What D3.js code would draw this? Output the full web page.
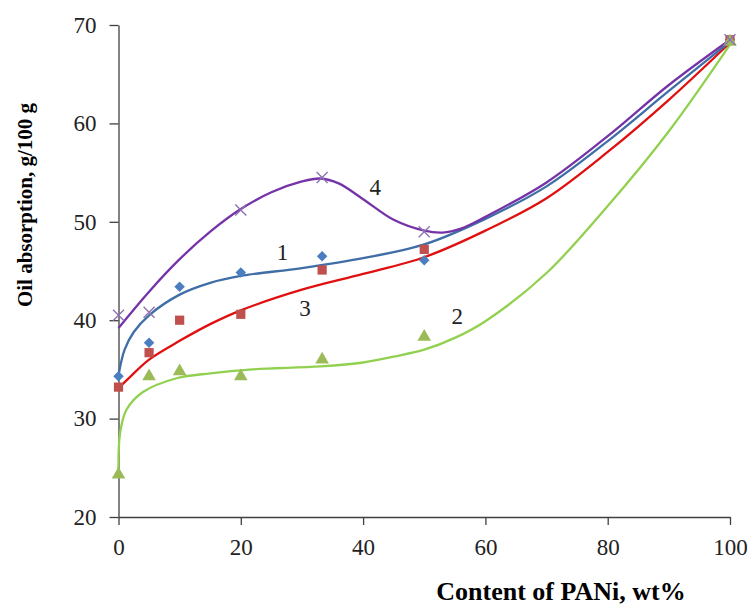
<!DOCTYPE html>
<html>
<head>
<meta charset="utf-8">
<script src="https://cdn.jsdelivr.net/npm/d3@7"></script>
<style>
  body { margin: 0; background: #fff; }
  text { font-family: "Liberation Serif", "Times New Roman", serif; }
</style>
</head>
<body>
<div id="chart"></div>
<script>
// measured points (x = content of PANi, wt%)
var xPoints = [0, 5, 10, 20, 33.3, 50, 100];
var series1 = [34.3, 37.7, 43.4, 44.85, 46.5, 46.1, 68.5];   // blue diamonds
var series2 = [24.3, 34.3, 34.8, 34.3, 36.0, 38.3, 68.3];     // green triangles
var series3 = [33.2, 36.7, 40.0, 40.6, 45.1, 47.2, 68.5];     // red squares
var xPoints4 = [0, 5, 20, 33.3, 50, 100];
var series4 = [40.5, 40.8, 51.2, 54.5, 49.0, 68.5];           // purple crosses

// fitted curves
var curve1X = [0, 1, 2.5, 5, 10, 15, 20, 30, 40, 50, 60, 70, 80, 90, 100];
var curve1Y = [34.4, 37.0, 38.8, 40.5, 42.6, 43.8, 44.5, 45.3, 46.3, 47.7, 50.3, 53.6, 58.2, 63.3, 68.3];
var curve2X = [0, 0.25, 1.3, 4, 9.5, 15, 22, 33, 40, 45, 50, 55, 60, 70, 80, 90, 100];
var curve2Y = [24.1, 28.5, 30.9, 32.7, 34.1, 34.6, 35.0, 35.3, 35.7, 36.3, 37.0, 38.2, 39.9, 44.8, 51.6, 59.2, 68.0];
var curve3X = [0, 2, 5, 10, 15, 20, 30, 40, 50, 60, 70, 80, 90, 100];
var curve3Y = [33.1, 34.3, 36.0, 37.9, 39.6, 41.0, 43.1, 44.7, 46.4, 49.1, 52.4, 57.1, 62.4, 68.2];
var curve4X = [0, 5, 10, 15, 20, 25, 30, 33, 36, 40, 45, 50, 53, 56, 60, 70, 80, 90, 100];
var curve4Y = [39.2, 42.9, 46.2, 49.0, 51.3, 53.0, 54.1, 54.4, 53.9, 52.3, 50.2, 49.1, 48.9, 49.3, 50.5, 54.0, 58.7, 63.9, 68.5];

var xTicks = [0, 20, 40, 60, 80, 100];
var yTicks = [20, 30, 40, 50, 60, 70];

// curve labels: [label, x, y]
var labels = [["1", 26.8, 46.9], ["3", 30.5, 41.2], ["4", 42, 53.5], ["2", 55.4, 40.4]];

var width = 751, height = 606;
var svg = d3.select("#chart").append("svg")
    .attr("width", width)
    .attr("height", height);

var x = d3.scaleLinear().domain([0, 100]).range([118.5, 730]);
var y = d3.scaleLinear().domain([20, 70]).range([517, 25]);

var axisColor = "#404040";

// X axis
var gx = svg.append("g")
    .attr("transform", "translate(0," + y(20) + ")")
    .call(d3.axisBottom(x).tickValues(xTicks).tickSize(8).tickPadding(14).tickSizeOuter(0));
// Y axis
var gy = svg.append("g")
    .attr("transform", "translate(" + x(0) + ",0)")
    .call(d3.axisLeft(y).tickValues(yTicks).tickSize(9).tickPadding(13).tickSizeOuter(0));

[gx, gy].forEach(function (g) {
    g.select(".domain").attr("stroke", axisColor).attr("stroke-width", 1.3);
    g.selectAll(".tick line").attr("stroke", axisColor).attr("stroke-width", 1.3);
    g.selectAll(".tick text")
        .attr("fill", "#222")
        .style("font-family", "'Liberation Serif', 'Times New Roman', serif")
        .style("font-size", "23px");
});

// curves
var line = d3.line()
    .x(function (d) { return x(d[0]); })
    .y(function (d) { return y(d[1]); })
    .curve(d3.curveCatmullRom.alpha(0.5));

function zip(a, b) { return a.map(function (v, i) { return [v, b[i]]; }); }

var curves = [
    {xs: curve2X, ys: curve2Y, color: "#92d050"},
    {xs: curve3X, ys: curve3Y, color: "#e01010"},
    {xs: curve1X, ys: curve1Y, color: "#3f6ea6"},
    {xs: curve4X, ys: curve4Y, color: "#7533a8"}
];
curves.forEach(function (c) {
    svg.append("path")
        .datum(zip(c.xs, c.ys))
        .attr("d", line)
        .attr("fill", "none")
        .attr("stroke", c.color)
        .attr("stroke-width", 2.3);
});

// markers
svg.append("g").selectAll("path")
    .data(zip(xPoints, series1))
    .enter().append("path")
    .attr("transform", function (d) { return "translate(" + x(d[0]) + "," + y(d[1]) + ") rotate(45)"; })
    .attr("d", d3.symbol().type(d3.symbolSquare).size(55)())
    .attr("fill", "#4a7ebf");

svg.append("g").selectAll("path")
    .data(zip(xPoints, series3))
    .enter().append("path")
    .attr("transform", function (d) { return "translate(" + x(d[0]) + "," + y(d[1]) + ")"; })
    .attr("d", d3.symbol().type(d3.symbolSquare).size(85)())
    .attr("fill", "#c0504d");

svg.append("g").selectAll("path")
    .data(zip(xPoints, series2))
    .enter().append("path")
    .attr("transform", function (d) { return "translate(" + x(d[0]) + "," + y(d[1]) + ")"; })
    .attr("d", d3.symbol().type(d3.symbolTriangle).size(80)())
    .attr("fill", "#9bbb59");

svg.append("g").selectAll("path")
    .data(zip(xPoints4, series4))
    .enter().append("path")
    .attr("transform", function (d) { return "translate(" + x(d[0]) + "," + y(d[1]) + ")"; })
    .attr("d", "M-5.5,-5.5L5.5,5.5M-5.5,5.5L5.5,-5.5")
    .attr("fill", "none")
    .attr("stroke", "#8d72b3")
    .attr("stroke-width", 1.4);

// curve numbers
svg.append("g").selectAll("text")
    .data(labels)
    .enter().append("text")
    .attr("x", function (d) { return x(d[1]); })
    .attr("y", function (d) { return y(d[2]); })
    .attr("text-anchor", "middle")
    .attr("dominant-baseline", "central")
    .style("font-size", "23px")
    .attr("fill", "#222")
    .text(function (d) { return d[0]; });

// axis titles
svg.append("text")
    .attr("x", 561)
    .attr("y", 600)
    .attr("text-anchor", "middle")
    .style("font-size", "26px")
    .style("font-weight", "bold")
    .text("Content of PANi, wt%");

svg.append("text")
    .attr("transform", "translate(32,205) rotate(-90)")
    .attr("text-anchor", "middle")
    .style("font-size", "21px")
    .style("font-weight", "bold")
    .text("Oil absorption, g/100 g");
</script>
</body>
</html>
